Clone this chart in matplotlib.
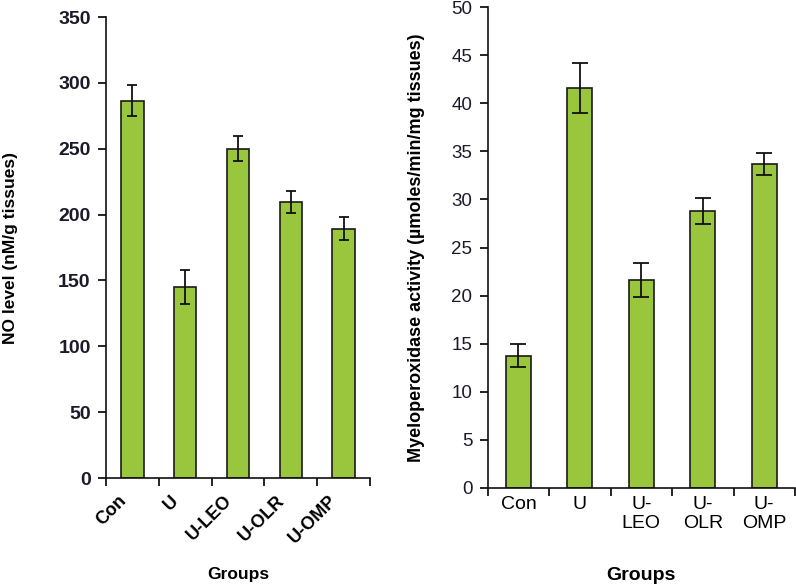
import matplotlib
matplotlib.use("Agg")
import matplotlib.pyplot as plt
import matplotlib.transforms as mtransforms
import numpy as np

plt.rcParams["font.family"] = ["Liberation Sans", "DejaVu Sans"]

groups = ["Con", "U", "U-LEO", "U-OLR", "U-OMP"]
groups_wrapped = ["Con", "U", "U-\nLEO", "U-\nOLR", "U-\nOMP"]

no_level = [286.5, 145.3, 250.0, 209.5, 189.3]
no_err = [12.0, 13.0, 9.5, 8.6, 8.6]

mpo = [13.75, 41.6, 21.6, 28.8, 33.7]
mpo_err = [1.2, 2.6, 1.8, 1.35, 1.15]

bar_color = "#99C63C"
edge_color = "#1a1a1a"

fig = plt.figure(figsize=(7.96, 5.85), dpi=100)
ax1 = fig.add_axes([0.1332, 0.1829, 0.3316, 0.7880])
ax2 = fig.add_axes([0.6127, 0.1663, 0.3860, 0.8212])

x = np.arange(len(groups))


def style_axes(ax, ymax, ystep, bold, labelsize):
    for side in ("top", "right"):
        ax.spines[side].set_visible(False)
    for side in ("left", "bottom"):
        ax.spines[side].set_linewidth(1.2)
        ax.spines[side].set_color("#111111")
    ax.set_xlim(-0.5, len(groups) - 0.5)
    ax.set_ylim(0, ymax)
    ax.set_yticks(np.arange(0, ymax + 1e-9, ystep))
    ax.set_xticks(np.arange(-0.5, len(groups), 1.0), minor=True)
    ax.tick_params(axis="x", which="major", length=0, pad=6)
    ax.tick_params(axis="x", which="minor", length=6, width=1.2, direction="out")
    ax.tick_params(axis="y", length=6, width=1.2, direction="out",
                   labelsize=labelsize, pad=5)
    for lab in ax.get_yticklabels():
        lab.set_fontweight("bold" if bold else "normal")
        lab.set_color("#1a1a2a")


# Left panel: NO level
ax1.bar(x, no_level, width=0.42, color=bar_color, edgecolor=edge_color,
        linewidth=1.2, zorder=2)
ax1.errorbar(x, no_level, yerr=no_err, fmt="none", ecolor="#111111",
             elinewidth=1.3, capsize=3.8, capthick=1.3, zorder=3)
style_axes(ax1, 350, 50, True, 14)
ax1.set_xticks(x)
ax1.set_xticklabels(groups, rotation=45, ha="right", va="top",
                    rotation_mode="anchor", fontsize=13, fontweight="bold")
shift = mtransforms.ScaledTranslation(-15 / 100, -6 / 100, fig.dpi_scale_trans)
for lab in ax1.get_xticklabels():
    lab.set_transform(lab.get_transform() + shift)
ax1.set_ylabel("NO level (nM/g tissues)", fontsize=12.5, fontweight="bold")
ax1.yaxis.set_label_coords(-0.333, 0.5)
ax1.set_xlabel("Groups", fontsize=12.5, fontweight="bold")
ax1.xaxis.set_label_coords(0.5, -0.193)

# Right panel: MPO activity
ax2.bar(x, mpo, width=0.41, color=bar_color, edgecolor=edge_color,
        linewidth=1.2, zorder=2)
ax2.errorbar(x, mpo, yerr=mpo_err, fmt="none", ecolor="#111111",
             elinewidth=1.3, capsize=5.5, capthick=1.3, zorder=3)
style_axes(ax2, 50, 5, False, 13.5)
ax2.set_xticks(x)
ax2.set_xticklabels(groups_wrapped, fontsize=14, linespacing=1.15)
ax2.set_ylabel("Myeloperoxidase activity (µmoles/min/mg tissues)",
               fontsize=13, fontweight="bold")
ax2.yaxis.set_label_coords(-0.204, 0.5)
ax2.set_xlabel("Groups", fontsize=14, fontweight="bold")
ax2.xaxis.set_label_coords(0.5, -0.165)

fig.savefig("out.png", dpi=100)
